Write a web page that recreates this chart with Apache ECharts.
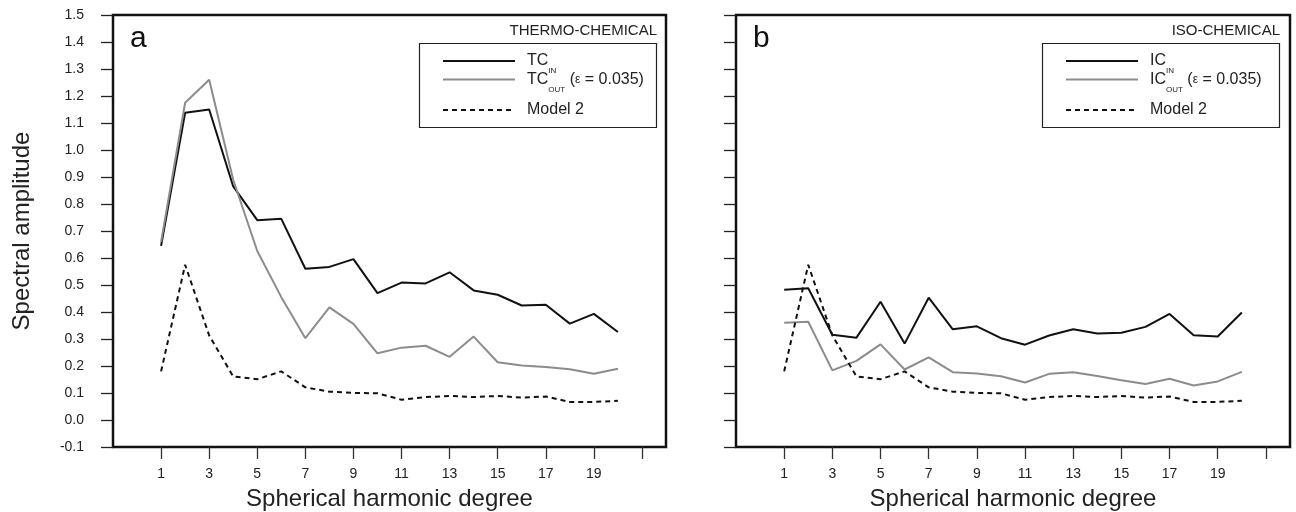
<!DOCTYPE html>
<html>
<head>
<meta charset="utf-8">
<title>Spectral amplitude</title>
<script src="https://cdn.jsdelivr.net/npm/echarts@6/dist/echarts.min.js"></script>
<style>
  html, body { margin: 0; padding: 0; background: #fff; }
  #chart { width: 1296px; height: 512px; }
</style>
</head>
<body>
<div id="chart"></div>
<script>
// x categories (spherical harmonic degree), -1 .. 22 so the box matches the original
var degreeAxis = [];
for (var k = -1; k <= 22; k++) degreeAxis.push(String(k));

var degrees = [1, 2, 3, 4, 5, 6, 7, 8, 9, 10, 11, 12, 13, 14, 15, 16, 17, 18, 19, 20];

// panel a : thermo-chemical
var tcIn = [0.645, 1.138, 1.15, 0.865, 0.74, 0.745, 0.56, 0.567, 0.596, 0.47,
            0.509, 0.506, 0.547, 0.48, 0.464, 0.424, 0.427, 0.357, 0.393, 0.326];
var tcOut = [0.66, 1.175, 1.26, 0.89, 0.626, 0.455, 0.303, 0.417, 0.356, 0.247,
             0.268, 0.275, 0.234, 0.309, 0.214, 0.202, 0.196, 0.188, 0.171, 0.19];

// panel b : iso-chemical
var icIn = [0.482, 0.488, 0.316, 0.305, 0.438, 0.283, 0.453, 0.336, 0.347, 0.303,
            0.279, 0.313, 0.336, 0.32, 0.323, 0.345, 0.393, 0.314, 0.309, 0.398];
var icOut = [0.36, 0.364, 0.184, 0.219, 0.28, 0.187, 0.232, 0.177, 0.172, 0.162,
             0.139, 0.171, 0.177, 0.163, 0.147, 0.133, 0.153, 0.128, 0.143, 0.178];

// reference model, same in both panels
var model2 = [0.18, 0.575, 0.313, 0.161, 0.151, 0.18, 0.121, 0.105, 0.1, 0.099,
              0.075, 0.085, 0.089, 0.085, 0.089, 0.083, 0.087, 0.067, 0.067, 0.071];

var FONT = "'Liberation Sans', Arial, Helvetica, sans-serif";
var BLACK = "#111";
var GRAY = "#8c8c8c";

function pairs(vals) {
  return degrees.map(function (d, i) { return [String(d), vals[i]]; });
}

function isOdd(v, hi) {
  var n = parseInt(v, 10);
  return n >= 1 && n <= hi && n % 2 === 1;
}

function xAxisFor(gridIndex) {
  return {
    type: "category",
    gridIndex: gridIndex,
    data: degreeAxis,
    boundaryGap: false,
    name: "Spherical harmonic degree",
    nameLocation: "middle",
    nameGap: 40,
    nameTextStyle: { fontFamily: FONT, fontSize: 24, color: "#222" },
    axisLine: { show: false, onZero: false },
    axisTick: {
      show: true,
      length: 12,
      interval: function (i, v) { return isOdd(v, 21); },
      lineStyle: { color: "#333", width: 1.3 }
    },
    axisLabel: {
      margin: 20,
      fontFamily: FONT,
      fontSize: 14,
      color: "#222",
      interval: function (i, v) { return isOdd(v, 19); }
    },
    splitLine: { show: false }
  };
}

function yAxisFor(gridIndex, withLabels) {
  return {
    type: "value",
    gridIndex: gridIndex,
    min: -0.1,
    max: 1.5,
    interval: 0.1,
    name: withLabels ? "Spectral amplitude" : "",
    nameLocation: "middle",
    nameGap: 79,
    nameTextStyle: { fontFamily: FONT, fontSize: 24, color: "#222" },
    axisLine: { show: false, onZero: false },
    axisTick: { show: true, length: 12, lineStyle: { color: "#222", width: 1.3 } },
    axisLabel: {
      show: withLabels,
      margin: 29,
      fontFamily: FONT,
      fontSize: 14,
      color: "#222",
      formatter: function (v) { return v.toFixed(1); }
    },
    splitLine: { show: false }
  };
}

function lineSeries(idx, name, vals, color, dashed) {
  return {
    name: name,
    type: "line",
    xAxisIndex: idx,
    yAxisIndex: idx,
    data: pairs(vals),
    symbol: "none",
    silent: true,
    lineStyle: { color: color, width: 2, type: dashed ? [5, 4] : "solid" }
  };
}

// legend box + panel letter + regime title, drawn relative to each panel
function panelDecor(left, letter, title, abbr) {
  var txt = { fontFamily: FONT, fontSize: 16, fill: "#222" };
  var rich = {
    m: { fontFamily: FONT, fontSize: 16, lineHeight: 28, fill: "#222" },
    e: { fontFamily: FONT, fontSize: 12, lineHeight: 28, fill: "#222" },
    s: { fontFamily: FONT, fontSize: 8, lineHeight: 9, verticalAlign: "bottom", fill: "#222" }
  };
  return [
    { type: "text", left: left + 17, top: 24,
      style: { text: letter, fontFamily: FONT, fontSize: 30, fill: "#111" } },
    { type: "text", right: 1296 - (left + 544), top: 23,
      style: { text: title, fontFamily: FONT, fontSize: 15, fill: "#222" } },
    { type: "rect", shape: { x: left + 306.5, y: 43.5, width: 237, height: 84 },
      style: { fill: "#fff", stroke: "#222", lineWidth: 1.2 } },
    { type: "line", shape: { x1: left + 330, y1: 61, x2: left + 402, y2: 61 },
      style: { stroke: BLACK, lineWidth: 2 } },
    { type: "line", shape: { x1: left + 330, y1: 79.5, x2: left + 402, y2: 79.5 },
      style: { stroke: GRAY, lineWidth: 2 } },
    { type: "line", shape: { x1: left + 330, y1: 110, x2: left + 402, y2: 110 },
      style: { stroke: BLACK, lineWidth: 2, lineDash: [5, 4] } },
    { type: "text", x: left + 414, y: 61,
      style: { text: "{m|" + abbr + "}{s|IN}", verticalAlign: "middle", rich: rich } },
    { type: "text", x: left + 414, y: 80,
      style: {
        text: "{m|" + abbr + "}{s|OUT}{m| (}{e|\u03b5}{m| = 0.035)}",
        verticalAlign: "middle",
        rich: rich
      } },
    { type: "text", x: left + 414, y: 110,
      style: Object.assign({ text: "Model 2", verticalAlign: "middle" }, txt) }
  ];
}

var chart = echarts.init(document.getElementById("chart"), null, { renderer: "canvas" });

var option = {
  backgroundColor: "#fff",
  animation: false,
  grid: [
    { left: 113, right: 630, top: 15, bottom: 65, show: true, outerBoundsMode: "none",
      borderColor: "#111", borderWidth: 2.5, backgroundColor: "transparent" },
    { left: 736, right: 6, top: 15, bottom: 65, show: true, outerBoundsMode: "none",
      borderColor: "#111", borderWidth: 2.5, backgroundColor: "transparent" }
  ],
  xAxis: [xAxisFor(0), xAxisFor(1)],
  yAxis: [yAxisFor(0, true), yAxisFor(1, false)],
  series: [
    lineSeries(0, "TC_IN", tcIn, BLACK, false),
    lineSeries(0, "TC_OUT", tcOut, GRAY, false),
    lineSeries(0, "Model 2", model2, BLACK, true),
    lineSeries(1, "IC_IN", icIn, BLACK, false),
    lineSeries(1, "IC_OUT", icOut, GRAY, false),
    lineSeries(1, "Model 2 ", model2, BLACK, true)
  ],
  graphic: panelDecor(113, "a", "THERMO-CHEMICAL", "TC")
    .concat(panelDecor(736, "b", "ISO-CHEMICAL", "IC"))
};

chart.setOption(option);
</script>
</body>
</html>
